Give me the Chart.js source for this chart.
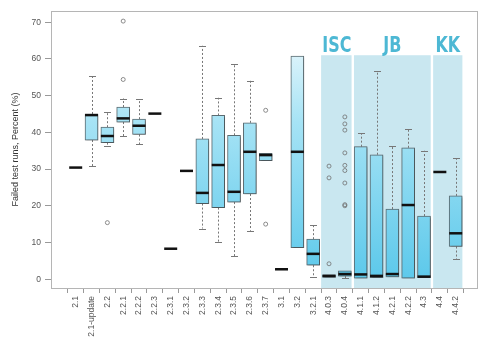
<!DOCTYPE html>
<html>
<head>
<meta charset="utf-8">
<script src="https://cdn.jsdelivr.net/npm/chart.js@4.4.1/dist/chart.umd.min.js"></script>
<style>
  html, body { margin: 0; padding: 0; background: #fff; }
</style>
</head>
<body>
<canvas id="chart" width="500" height="350"></canvas>
<script>
const categories = ["2.1", "2.1-update", "2.2", "2.2.1", "2.2.2", "2.2.3", "2.3.1", "2.3.2",
  "2.3.3", "2.3.4", "2.3.5", "2.3.6", "2.3.7", "3.1", "3.2", "3.2.1",
  "4.0.3", "4.0.4", "4.1.1", "4.1.2", "4.2.1", "4.2.2", "4.3", "4.4", "4.4.2"];

const whiskerLow  = [null, 30.8, 36.4, 39.0, 36.8, null, null, null, 13.8, 10.1, 6.2, 13.2, 32.3, null, 8.6, 0.7, 0.4, 0.3, 0.2, 0.3, 0.4, 0.2, 0.3, null, 5.4];
const q1          = [null, 37.9, 37.2, 42.8, 39.4, null, null, null, 20.6, 19.5, 21.0, 23.2, 32.3, null, 8.6, 3.8, 0.5, 0.8, 0.3, 0.4, 0.6, 0.3, 0.4, null, 8.9];
const medians     = [30.4, 44.7, 39.0, 43.8, 41.8, 45.1, 8.3, 29.5, 23.5, 31.1, 23.8, 34.7, 33.8, 2.7, 34.7, 6.9, 0.9, 1.4, 1.3, 0.9, 1.4, 20.2, 0.7, 29.2, 12.5];
const q3          = [null, 45.0, 41.4, 46.9, 43.6, null, null, null, 38.2, 44.6, 39.2, 42.6, 34.3, null, 60.8, 10.9, 1.2, 2.3, 36.1, 33.9, 19.1, 35.8, 17.2, null, 22.7];
const whiskerHigh = [null, 55.3, 45.6, 49.2, 49.0, null, null, null, 63.6, 49.4, 58.6, 54.1, 34.3, null, 60.8, 14.8, 1.3, 2.3, 39.7, 56.7, 36.3, 41.0, 35.0, null, 32.9];

const outlierCats   = ["2.2", "2.2.1", "2.2.1", "2.3.7", "2.3.7", "4.0.3", "4.0.3", "4.0.3",
  "4.0.4", "4.0.4", "4.0.4", "4.0.4", "4.0.4", "4.0.4", "4.0.4", "4.0.4", "4.0.4"];
const outlierValues = [15.4, 54.4, 70.3, 46.0, 15.0, 30.8, 27.6, 4.2,
  44.2, 42.3, 40.6, 34.4, 31.0, 29.6, 26.2, 20.3, 20.0];

const yTicks = [0, 10, 20, 30, 40, 50, 60, 70];

const groups     = ["ISC", "JB", "KK"];
const groupFirst = ["4.0.3", "4.1.1", "4.4"];
const groupLast  = ["4.0.4", "4.3", "4.4.2"];

const FONT = '"Liberation Sans", Arial, sans-serif';

// whiskers, medians, group panels and frame drawn on the chart's scales
const boxParts = {
  id: 'boxParts',
  beforeDatasetsDraw(chart) {
    const { ctx, chartArea: a, scales: { x, y } } = chart;
    ctx.save();
    const top = y.getPixelForValue(61);
    ctx.fillStyle = '#c9e7f0';
    groups.forEach((g, k) => {
      const l = x.getPixelForValue(categories.indexOf(groupFirst[k]) - 0.5) + (k > 0 ? 1.2 : 0);
      const r = x.getPixelForValue(categories.indexOf(groupLast[k]) + 0.5) - 1.2;
      ctx.fillRect(l, top, r - l, a.bottom - top);
    });
    ctx.fillStyle = '#4db8d4';
    ctx.font = 'bold 21px "DejaVu Sans", sans-serif';
    ctx.textAlign = 'center';
    ctx.textBaseline = 'alphabetic';
    groups.forEach((g, k) => {
      const l = x.getPixelForValue(categories.indexOf(groupFirst[k]) - 0.5);
      const r = x.getPixelForValue(categories.indexOf(groupLast[k]) + 0.5);
      ctx.save();
      ctx.translate((l + r) / 2, top - 3.5);
      ctx.scale(0.76, 1.05);
      ctx.fillText(g, 0, 0);
      ctx.restore();
    });

    ctx.strokeStyle = '#777';
    ctx.lineWidth = 1;
    categories.forEach((c, i) => {
      if (q1[i] == null) return;
      const px = Math.round(x.getPixelForValue(i)) + 0.5;
      const parts = [[q3[i], whiskerHigh[i]], [q1[i], whiskerLow[i]]];
      parts.forEach(([from, to]) => {
        if (to == null || Math.abs(to - from) < 0.3) return;
        ctx.setLineDash([2, 2]);
        ctx.beginPath();
        ctx.moveTo(px, y.getPixelForValue(from));
        ctx.lineTo(px, y.getPixelForValue(to));
        ctx.stroke();
        ctx.setLineDash([]);
        const py = Math.round(y.getPixelForValue(to)) + 0.5;
        ctx.beginPath();
        ctx.moveTo(px - 3.5, py);
        ctx.lineTo(px + 3.5, py);
        ctx.stroke();
      });
    });
    ctx.restore();
  },
  beforeDatasetDraw(chart, args) {
    if (args.index !== 0) return;
    const ctx = chart.ctx;
    ctx.save();
    ctx.shadowColor = 'rgba(0,0,0,0.3)';
    ctx.shadowBlur = 2;
    ctx.shadowOffsetX = 1;
    ctx.shadowOffsetY = 1;
  },
  afterDatasetDraw(chart, args) {
    if (args.index === 0) chart.ctx.restore();
  },
  afterDatasetsDraw(chart) {
    const { ctx, chartArea: a, scales: { x, y } } = chart;
    ctx.save();
    ctx.strokeStyle = '#111';
    ctx.lineWidth = 2.5;
    categories.forEach((c, i) => {
      const px = x.getPixelForValue(i);
      const py = y.getPixelForValue(medians[i]);
      ctx.beginPath();
      ctx.moveTo(px - 6.5, py);
      ctx.lineTo(px + 6.5, py);
      ctx.stroke();
    });
    ctx.strokeStyle = '#b5b5b5';
    ctx.lineWidth = 1;
    ctx.strokeRect(a.left + 0.5, a.top + 0.5, a.right - a.left - 1, a.bottom - a.top);
    ctx.restore();
  }
};

function boxFill(context) {
  const chart = context.chart;
  const a = chart.chartArea;
  if (!a) return '#8fdcf2';
  const g = chart.ctx.createLinearGradient(0, a.top, 0, a.bottom);
  g.addColorStop(0, '#ffffff');
  g.addColorStop(0.12, '#e2f5fb');
  g.addColorStop(0.4, '#a6e3f5');
  g.addColorStop(1, '#58c7ea');
  return g;
}

new Chart(document.getElementById('chart'), {
  type: 'bar',
  data: {
    datasets: [{
      type: 'bar',
      data: categories.map((c, i) => ({ x: i, y: q1[i] == null ? null : [q1[i], q3[i]] })),
      backgroundColor: boxFill,
      borderColor: '#5d6d73',
      borderWidth: 1,
      borderSkipped: false,
      barThickness: 13
    }, {
      type: 'scatter',
      data: outlierCats.map((c, k) => ({ x: categories.indexOf(c), y: outlierValues[k] })),
      pointRadius: 2,
      pointBorderWidth: 0.8,
      pointBorderColor: '#707070',
      pointBackgroundColor: 'rgba(0,0,0,0)'
    }]
  },
  options: {
    responsive: false,
    animation: false,
    layout: { padding: { top: 11, right: 22, left: 0, bottom: 0 } },
    plugins: { legend: { display: false }, tooltip: { enabled: false } },
    scales: {
      x: {
        type: 'linear',
        min: -1.56,
        max: 25.41,
        offset: false,
        afterBuildTicks: s => { s.ticks = categories.map((c, i) => ({ value: i })); },
        afterFit: s => { s.height = 62; },
        ticks: {
          autoSkip: false, minRotation: 90, maxRotation: 90, padding: 3,
          color: '#555', font: { family: FONT, size: 8.5 },
          callback: v => categories[v]
        },
        grid: { drawOnChartArea: false, tickLength: 5, color: '#999' },
        border: { display: false }
      },
      y: {
        min: -2.4,
        max: 73.05,
        afterBuildTicks: s => { s.ticks = yTicks.map(v => ({ value: v })); },
        afterFit: s => { s.width = 51; },
        ticks: { padding: 4, color: '#555', font: { family: FONT, size: 8.5 } },
        grid: { drawOnChartArea: false, tickLength: 6, color: '#999' },
        border: { display: false },
        title: {
          display: true, text: 'Failed test runs, Percent (%)', color: '#333',
          font: { family: FONT, size: 9 }, padding: { top: 10.6, bottom: 0 }
        }
      }
    }
  },
  plugins: [boxParts]
});
</script>
</body>
</html>
